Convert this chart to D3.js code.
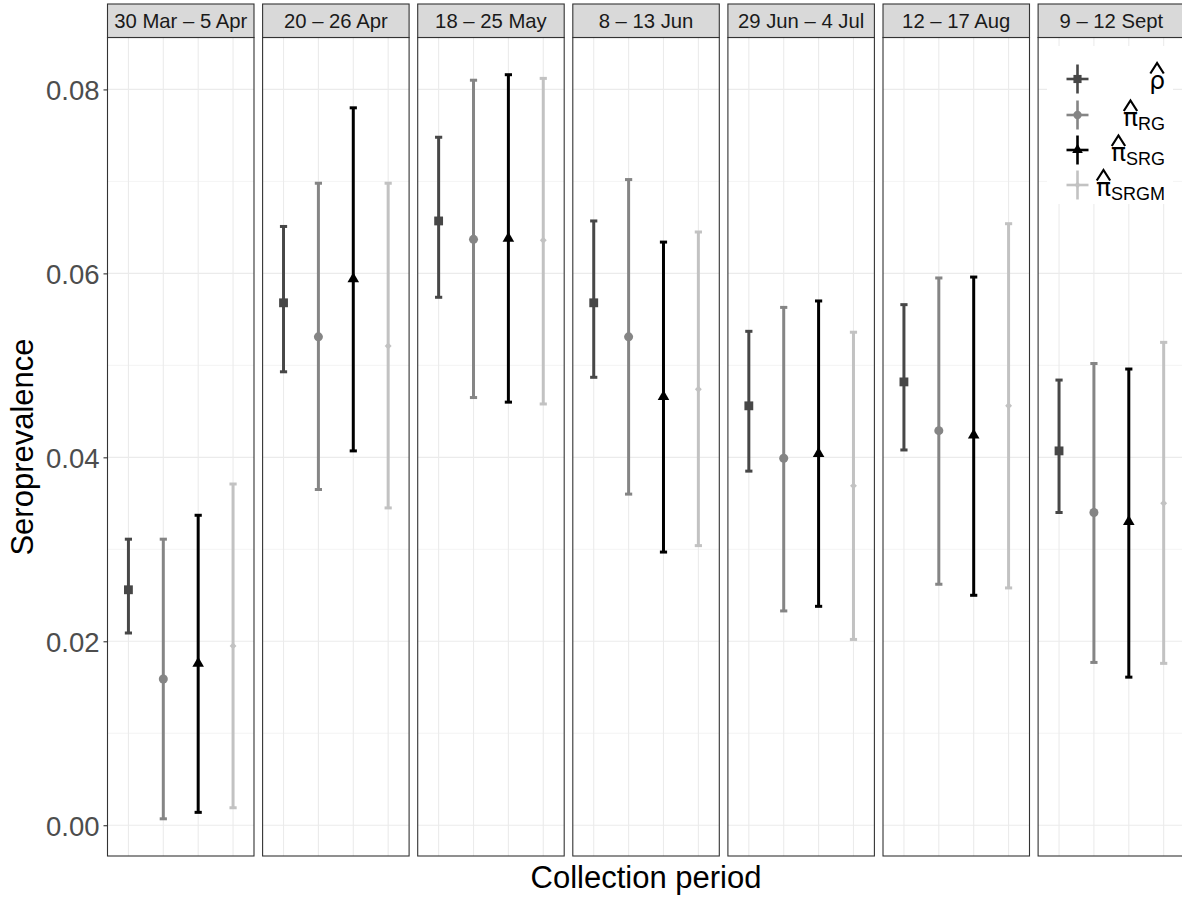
<!DOCTYPE html>
<html><head><meta charset="utf-8">
<script src="https://cdn.jsdelivr.net/npm/d3@7"></script>
<style>
html,body{margin:0;padding:0;background:#fff;}
svg{display:block;font-family:"Liberation Sans",Arial,sans-serif;}
</style></head>
<body>
<svg id="chart" width="1182" height="897"></svg>
<script>
// ---- data ----
const periods = ["30 Mar \u2013 5 Apr", "20 \u2013 26 Apr", "18 \u2013 25 May", "8 \u2013 13 Jun", "29 Jun \u2013 4 Jul", "12 \u2013 17 Aug", "9 \u2013 12 Sept"];
const estimators = ["rho", "RG", "SRG", "SRGM"];

const rhoEst = [0.0256, 0.0568, 0.0657, 0.0568, 0.0456, 0.0482, 0.0407];
const rhoLo  = [0.0209, 0.0493, 0.0574, 0.0487, 0.0385, 0.0408, 0.0340];
const rhoHi  = [0.0311, 0.0651, 0.0748, 0.0657, 0.0537, 0.0566, 0.0484];

const rgEst = [0.0159, 0.0531, 0.0637, 0.0531, 0.0399, 0.0429, 0.0340];
const rgLo  = [0.0007, 0.0365, 0.0465, 0.0360, 0.0233, 0.0262, 0.0177];
const rgHi  = [0.0311, 0.0698, 0.0810, 0.0702, 0.0563, 0.0595, 0.0502];

const srgEst = [0.0176, 0.0594, 0.0638, 0.0466, 0.0404, 0.0424, 0.0330];
const srgLo  = [0.0014, 0.0407, 0.0460, 0.0297, 0.0238, 0.0250, 0.0161];
const srgHi  = [0.0337, 0.0780, 0.0816, 0.0634, 0.0570, 0.0596, 0.0496];

const srgmEst = [0.0195, 0.0521, 0.0636, 0.0474, 0.0369, 0.0456, 0.0350];
const srgmLo  = [0.0019, 0.0345, 0.0458, 0.0304, 0.0202, 0.0258, 0.0176];
const srgmHi  = [0.0371, 0.0698, 0.0812, 0.0645, 0.0536, 0.0654, 0.0525];

const yTicks = [0, 0.02, 0.04, 0.06, 0.08];
const yMinor = [0.01, 0.03, 0.05, 0.07];
const legendBase = ["\u03C1", "\u03C0", "\u03C0", "\u03C0"];
const legendSub  = ["", "RG", "SRG", "SRGM"];

// ---- build rows ----
const seriesTable = {
  rho:  {est: rhoEst,  lo: rhoLo,  hi: rhoHi},
  RG:   {est: rgEst,   lo: rgLo,   hi: rgHi},
  SRG:  {est: srgEst,  lo: srgLo,  hi: srgHi},
  SRGM: {est: srgmEst, lo: srgmLo, hi: srgmHi}
};
const rows = [];
periods.forEach((p, i) => estimators.forEach(e => {
  const s = seriesTable[e];
  rows.push({period: p, est: e, v: s.est[i], lo: s.lo[i], hi: s.hi[i]});
}));

const color = d3.scaleOrdinal().domain(estimators).range(["#474747", "#858585", "#000000", "#c2c2c2"]);
const symType = {rho: d3.symbolSquare, RG: d3.symbolCircle, SRG: d3.symbolTriangle, SRGM: d3.symbolSquare};
const symSize = {rho: 78, RG: 64, SRG: 58, SRGM: 24};
const symRot = {rho: 0, RG: 0, SRG: 0, SRGM: 45};

// ---- layout ----
const svg = d3.select("#chart");
const panelTop = 37.5, panelBottom = 856, stripTop = 4;
const xPanel = d3.scaleBand().domain(periods).range([107.5, 1184.6]).paddingInner(0.0555).paddingOuter(0);
const bw = xPanel.bandwidth();
const xIn = d3.scalePoint().domain(estimators).range([0, bw]).padding(0.6);

const allVals = rows.flatMap(r => [r.lo, r.hi]);
const ext = d3.extent(allVals);
const pad = (ext[1] - ext[0]) * 0.05;
const y = d3.scaleLinear().domain([ext[0] - pad, ext[1] + pad]).range([panelBottom, panelTop]);

const panels = svg.selectAll("g.panel").data(periods).join("g")
  .attr("class", "panel")
  .attr("transform", d => `translate(${xPanel(d)},0)`);

// grid
panels.each(function(p) {
  const g = d3.select(this);
  g.append("rect").attr("x", 0).attr("y", panelTop).attr("width", bw).attr("height", panelBottom - panelTop).attr("fill", "#fff");
  g.selectAll("line.minor").data(yMinor).join("line")
    .attr("x1", 0).attr("x2", bw).attr("y1", d => y(d)).attr("y2", d => y(d))
    .attr("stroke", "#ebebeb").attr("stroke-width", 0.6);
  g.selectAll("line.major").data(yTicks).join("line")
    .attr("x1", 0).attr("x2", bw).attr("y1", d => y(d)).attr("y2", d => y(d))
    .attr("stroke", "#ebebeb").attr("stroke-width", 1.1);
  g.selectAll("line.vmajor").data(estimators).join("line")
    .attr("x1", d => xIn(d)).attr("x2", d => xIn(d)).attr("y1", panelTop).attr("y2", panelBottom)
    .attr("stroke", "#ebebeb").attr("stroke-width", 1.1);
});

// marks
panels.each(function(p) {
  const g = d3.select(this);
  const data = rows.filter(r => r.period === p);
  const m = g.selectAll("g.mark").data(data).join("g").attr("class", "mark");
  m.append("line")
    .attr("x1", d => xIn(d.est)).attr("x2", d => xIn(d.est))
    .attr("y1", d => y(d.lo)).attr("y2", d => y(d.hi))
    .attr("stroke", d => color(d.est)).attr("stroke-width", 3);
  ["lo", "hi"].forEach(k => {
    m.append("line")
      .attr("x1", d => xIn(d.est) - 3.6).attr("x2", d => xIn(d.est) + 3.6)
      .attr("y1", d => y(d[k])).attr("y2", d => y(d[k]))
      .attr("stroke", d => color(d.est)).attr("stroke-width", 3);
  });
  m.append("path")
    .attr("d", d => d3.symbol().type(symType[d.est]).size(symSize[d.est])())
    .attr("transform", d => `translate(${xIn(d.est)},${y(d.v)}) rotate(${symRot[d.est]})`)
    .attr("fill", d => color(d.est));
});

// borders & strips
panels.append("rect").attr("x", 0).attr("y", panelTop).attr("width", bw).attr("height", panelBottom - panelTop)
  .attr("fill", "none").attr("stroke", "#333").attr("stroke-width", 1.1);
panels.append("rect").attr("x", 0).attr("y", stripTop).attr("width", bw).attr("height", panelTop - stripTop)
  .attr("fill", "#d9d9d9").attr("stroke", "#333").attr("stroke-width", 1.1);
panels.append("text").attr("x", bw / 2).attr("y", 28.3).attr("text-anchor", "middle")
  .attr("font-size", 20.3).attr("fill", "#1a1a1a").text(d => d);

// y axis
const yAxis = d3.axisLeft(y).tickValues(yTicks).tickFormat(d3.format(".2f")).tickSize(4).tickPadding(4);
const ya = svg.append("g").attr("transform", `translate(${xPanel(periods[0])},0)`).call(yAxis);
ya.select(".domain").remove();
ya.selectAll(".tick line").attr("stroke", "#333").attr("stroke-width", 1.1);
ya.selectAll(".tick text").attr("fill", "#4d4d4d").attr("font-size", 27.5)
  .attr("font-family", "Liberation Sans, Arial, sans-serif").attr("dy", "0.36em");

// axis titles
svg.append("text").attr("x", (107.5 + 1184.6) / 2).attr("y", 888).attr("text-anchor", "middle")
  .attr("font-size", 31).attr("fill", "#000").text("Collection period");
svg.append("text").attr("transform", "translate(33,447) rotate(-90)").attr("text-anchor", "middle")
  .attr("font-size", 31).attr("fill", "#000").text("Seroprevalence");

// legend
const lg = svg.append("g");
lg.append("rect").attr("x", 1047).attr("y", 46).attr("width", 126).attr("height", 158).attr("fill", "#fff");
const rowY = [79, 115, 150, 185];
const baseY = [88.5, 126, 161, 195.5];
estimators.forEach((e, i) => {
  const cx = 1077.5, cy = rowY[i];
  lg.append("line").attr("x1", cx).attr("x2", cx).attr("y1", cy - 14.5).attr("y2", cy + 14.5)
    .attr("stroke", color(e)).attr("stroke-width", 2.6);
  lg.append("line").attr("x1", cx - 11).attr("x2", cx + 11).attr("y1", cy).attr("y2", cy)
    .attr("stroke", color(e)).attr("stroke-width", 2.6);
  lg.append("path").attr("d", d3.symbol().type(symType[e]).size(symSize[e] * 0.85)())
    .attr("transform", `translate(${cx},${cy}) rotate(${symRot[e]})`).attr("fill", color(e));
  const t = lg.append("text").attr("x", 1165).attr("y", baseY[i]).attr("text-anchor", "end").attr("fill", "#000");
  t.append("tspan").attr("font-size", 25).attr("font-family", "DejaVu Sans").text(legendBase[i]);
  if (legendSub[i]) t.append("tspan").attr("font-size", 18).attr("dy", 4.3).text(legendSub[i]);
  // hat over base glyph
  const bb = t.node().getExtentOfChar(0);
  const hx = bb.x + bb.width / 2;
  const b = baseY[i];
  lg.append("path")
    .attr("d", `M${hx - 6.7},${b - 15} L${hx},${b - 25.5} L${hx + 6.7},${b - 15}`)
    .attr("fill", "none").attr("stroke", "#000").attr("stroke-width", 2.2);
});
</script>
</body></html>
